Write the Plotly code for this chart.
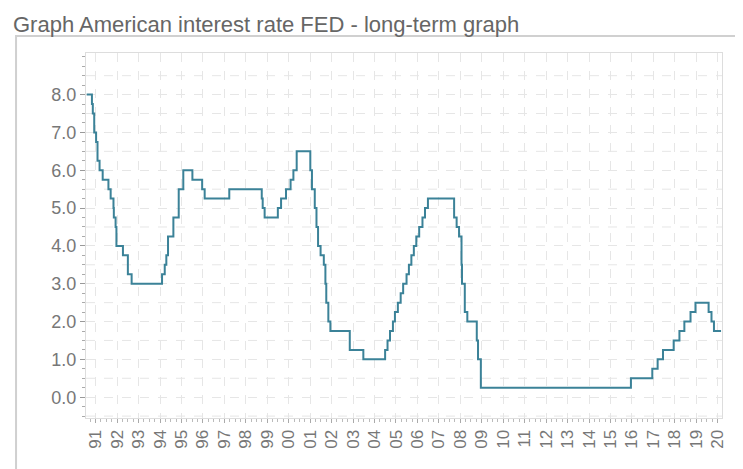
import plotly.graph_objects as go

# FED target rate changes (date, rate in %)
dates = ["1990-08-01", "1990-10-29", "1990-11-13", "1990-12-07", "1991-01-08", "1991-02-01",
         "1991-03-08", "1991-04-30", "1991-08-06", "1991-09-13", "1991-10-31", "1991-11-06",
         "1991-12-06", "1991-12-20", "1992-04-09", "1992-07-02", "1992-09-04", "1994-02-04",
         "1994-03-22", "1994-04-18", "1994-05-17", "1994-08-16", "1994-11-15", "1995-02-01",
         "1995-07-06", "1995-12-19", "1996-01-31", "1997-03-25", "1998-09-29", "1998-10-15",
         "1998-11-17", "1999-06-30", "1999-08-24", "1999-11-16", "2000-02-02", "2000-03-21",
         "2000-05-16", "2001-01-03", "2001-01-31", "2001-03-20", "2001-04-18", "2001-05-15",
         "2001-06-27", "2001-08-21", "2001-09-17", "2001-10-02", "2001-11-06", "2001-12-11",
         "2002-11-06", "2003-06-25", "2004-06-30", "2004-08-10", "2004-09-21", "2004-11-10",
         "2004-12-14", "2005-02-02", "2005-03-22", "2005-05-03", "2005-06-30", "2005-08-09",
         "2005-09-20", "2005-11-01", "2005-12-13", "2006-01-31", "2006-03-28", "2006-05-10",
         "2006-06-29", "2007-09-18", "2007-10-31", "2007-12-11", "2008-01-22", "2008-01-30",
         "2008-03-18", "2008-04-30", "2008-10-08", "2008-10-29", "2008-12-16", "2015-12-16",
         "2016-12-14", "2017-03-15", "2017-06-14", "2017-12-13", "2018-03-21", "2018-06-13",
         "2018-09-26", "2018-12-19", "2019-07-31", "2019-09-18", "2019-10-30", "2020-02-28"]
rates = [8.0, 7.75, 7.5, 7.0, 6.75, 6.25,
         6.0, 5.75, 5.5, 5.25, 5.0, 4.75,
         4.5, 4.0, 3.75, 3.25, 3.0, 3.25,
         3.5, 3.75, 4.25, 4.75, 5.5, 6.0,
         5.75, 5.5, 5.25, 5.5, 5.25, 5.0,
         4.75, 5.0, 5.25, 5.5, 5.75, 6.0,
         6.5, 6.0, 5.5, 5.0, 4.5, 4.0,
         3.75, 3.5, 3.0, 2.5, 2.0, 1.75,
         1.25, 1.0, 1.25, 1.5, 1.75, 2.0,
         2.25, 2.5, 2.75, 3.0, 3.25, 3.5,
         3.75, 4.0, 4.25, 4.5, 4.75, 5.0,
         5.25, 4.75, 4.5, 4.25, 3.5, 3.0,
         2.25, 2.0, 1.5, 1.0, 0.25, 0.5,
         0.75, 1.0, 1.25, 1.5, 1.75, 2.0,
         2.25, 2.5, 2.25, 2.0, 1.75, 1.75]

year_ticks = [f"{y}-01-01" for y in range(1991, 2021)]
year_labels = [f"{y % 100:02d}" for y in range(1991, 2021)]
y_ticks = [0, 1, 2, 3, 4, 5, 6, 7, 8]

grey = "#777777"
fig = go.Figure(go.Scatter(x=dates, y=rates, mode="lines", line=dict(color="#3b8298", width=2, shape="hv")))

fig.update_layout(
    width=743, height=469, margin=dict(l=78, r=29, t=45, b=59, autoexpand=False),
    paper_bgcolor="white", plot_bgcolor="white", showlegend=False,
    font=dict(family="Liberation Sans, Arial", color=grey),
)
fig.update_xaxes(
    automargin=False,
    range=["1990-07-20", "2020-03-15"], tickvals=year_ticks, ticktext=year_labels,
    tickangle=-90, tickfont=dict(size=17), ticks="outside", ticklen=4, tickcolor="#aaa",
    showgrid=True, gridcolor="#e6e6e6", griddash="dash", zeroline=False,
    showline=True, linecolor="#ddd", mirror=True,
    minor=dict(dtick="M3", ticks="outside", ticklen=3, tickcolor="#bbb", showgrid=False),
)
fig.update_yaxes(
    automargin=False,
    range=[-0.55, 9.1], tickvals=y_ticks, tickformat=".1f", tickfont=dict(size=18),
    ticks="outside", ticklen=5, tickcolor="#999",
    showgrid=True, gridcolor="#e6e6e6", griddash="dash", zeroline=False,
    showline=True, linecolor="#ddd", mirror=True,
    minor=dict(tickvals=[v / 4 for v in range(-2, 37)], ticks="outside", ticklen=3,
               tickcolor="#aaa", showgrid=False),
)
# dashed horizontal lines halfway between labels
for h in [-0.5, 0.5, 1.5, 2.5, 3.5, 4.5, 5.5, 6.5, 7.5, 8.5]:
    fig.add_hline(y=h, line=dict(color="#e6e6e6", width=1, dash="dash"), layer="below")
# outer frame and title
fig.add_shape(type="rect", xref="paper", yref="paper", x0=-0.110, x1=1.033, y0=-0.151, y1=1.0466,
              line=dict(color="#d0d0d0", width=2), layer="below")
fig.add_annotation(text="Graph American interest rate FED - long-term graph", xref="paper", yref="paper",
                   x=-0.118, y=1.078, xanchor="left", yanchor="middle", showarrow=False,
                   font=dict(size=22, color="#666"))

fig.write_html("out.html")
